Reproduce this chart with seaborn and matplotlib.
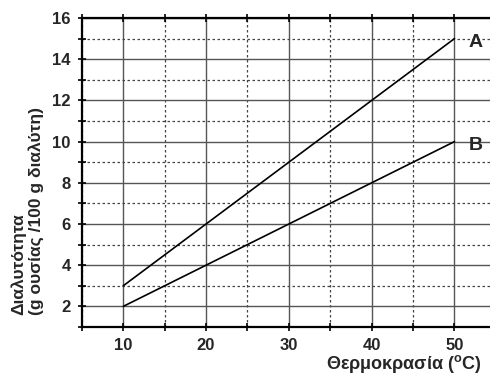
import numpy as np
import pandas as pd
import matplotlib
matplotlib.use("Agg")
import matplotlib.pyplot as plt
import seaborn as sns
from matplotlib.ticker import MultipleLocator
from matplotlib import font_manager as fm

# ── Data ──────────────────────────────────────────────────────────────────────
temperature = [10, 50]
solubility_a = [3, 15]
solubility_b = [2, 10]
labels = ["A", "B"]

df = pd.DataFrame({
    "temp": temperature * 2,
    "sol": solubility_a + solubility_b,
    "curve": [labels[0]] * 2 + [labels[1]] * 2,
})

sns.set_style("white")
plt.rcParams["font.family"] = ["Liberation Sans", "DejaVu Sans"]
plt.rcParams["mathtext.fontset"] = "custom"
plt.rcParams["mathtext.bf"] = "Liberation Sans:bold"

bold_fp = fm.FontProperties(family="Liberation Sans", weight="bold")

fig = plt.figure(figsize=(4.9, 3.75), dpi=100)
ax = fig.add_axes([0.167, 0.128, 0.845, 0.824])

sns.lineplot(data=df, x="temp", y="sol", units="curve", estimator=None,
             color="black", lw=1.2, ax=ax, legend=False)

ax.set_xlim(5, 55)
ax.set_ylim(1, 16)
ax.xaxis.set_major_locator(MultipleLocator(10))
ax.xaxis.set_minor_locator(MultipleLocator(5))
ax.yaxis.set_major_locator(MultipleLocator(2))
ax.yaxis.set_minor_locator(MultipleLocator(1))

ax.grid(which="major", color="#555555", lw=1.0, ls="-")
ax.grid(which="minor", color="#444444", lw=0.9, ls=(0, (2, 2)))
ax.set_axisbelow(True)

for s in ("left", "bottom", "top"):
    ax.spines[s].set_color("black")
    ax.spines[s].set_linewidth(1.6)
ax.spines["right"].set_visible(False)

ax.tick_params(which="both", direction="inout", top=True, left=True,
               bottom=True, length=6, width=1.2, color="black")
ax.tick_params(which="major", labelsize=12, pad=5)
ax.set_xticks([10, 20, 30, 40, 50])
ax.set_xticklabels([str(v) for v in [10, 20, 30, 40, 50]])
ax.set_yticks(range(2, 17, 2))
ax.set_yticklabels([str(v) for v in range(2, 17, 2)])
for t in ax.get_xticklabels() + ax.get_yticklabels():
    t.set_fontweight("bold")

ax.set_xlabel("")
ax.set_ylabel("")
yl_fp = bold_fp.copy(); yl_fp.set_size(12.5)
fig.text(0.022, 0.16, "Διαλυτότητα\n(g ουσίας /100 g διαλύτη)", rotation=90,
         ha="left", va="bottom", multialignment="left", fontproperties=yl_fp,
         linespacing=1.15)
xl_fp = bold_fp.copy(); xl_fp.set_size(13)
fig.text(0.984, 0.0, r"Θερμοκρασία ($\mathbf{^{o}}$C)", ha="right",
         va="bottom", fontproperties=xl_fp)

for lab, ys in zip(labels, (solubility_a, solubility_b)):
    ax.text(temperature[-1] + 1.7, ys[-1] - 0.2, lab, fontsize=14,
            fontweight="bold", va="center", ha="left")

fig.savefig("out.png", dpi=100)
